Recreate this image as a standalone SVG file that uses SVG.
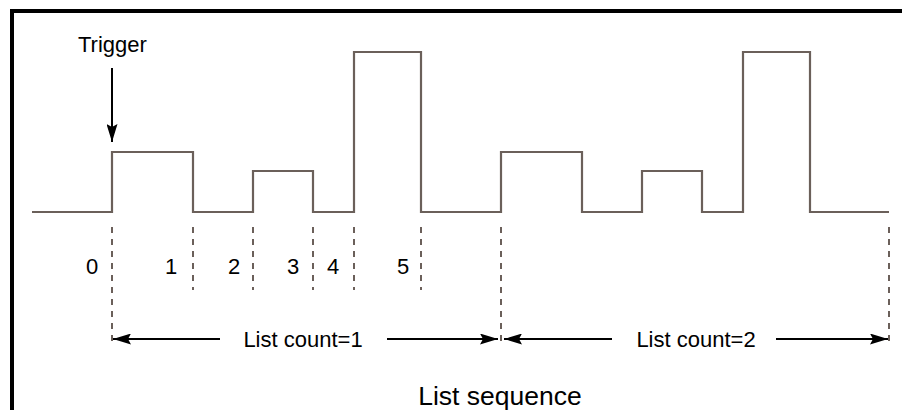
<svg xmlns="http://www.w3.org/2000/svg" width="902" height="410" viewBox="0 0 902 410">
<style>
.wave{fill:none;stroke:#6b605a;stroke-width:2.2}
.dash{fill:none;stroke:#6b605a;stroke-width:2;stroke-dasharray:6 6}
.arr{fill:none;stroke:#000;stroke-width:2}
.lbl{font-family:"Liberation Sans",Arial,sans-serif;font-size:22px;fill:#000}
.title{font-family:"Liberation Sans",Arial,sans-serif;font-size:26.5px;fill:#000}
</style>
<defs>
<marker id="ah" viewBox="0 0 18 11" refX="18" refY="5.5" markerWidth="18" markerHeight="11" markerUnits="userSpaceOnUse" orient="auto-start-reverse">
<path d="M0,0 L18,5.5 L0,11 L3,5.5 Z" fill="#000"/>
</marker>
</defs>
<rect width="902" height="410" fill="#fff"/>
<rect x="12" y="11" width="900" height="410" fill="none" stroke="#000" stroke-width="4"/>
<g id="waveform">
<path class="wave" d="M32,212 H112 V152 H193 V212 H253 V171 H313 V212 H354 V52 H421 V212 H501 V152 H582 V212 H642 V171 H702 V212 H743 V52 H810 V212 H889"/>
</g>
<g id="trigger">
<text class="lbl" x="78" y="52">Trigger</text>
<line class="arr" x1="112" y1="68" x2="112" y2="142" marker-end="url(#ah)"/>
</g>
<g id="markers">
<line class="dash" x1="112" y1="227" x2="112" y2="344"/>
<line class="dash" x1="193" y1="227" x2="193" y2="290"/>
<line class="dash" x1="253" y1="227" x2="253" y2="290"/>
<line class="dash" x1="313" y1="227" x2="313" y2="290"/>
<line class="dash" x1="354" y1="227" x2="354" y2="290"/>
<line class="dash" x1="421" y1="227" x2="421" y2="290"/>
<line class="dash" x1="501" y1="227" x2="501" y2="344"/>
<line class="dash" x1="889" y1="227" x2="889" y2="344"/>
</g>
<g id="step-labels">
<text class="lbl" x="92" y="274" text-anchor="middle">0</text>
<text class="lbl" x="171" y="274" text-anchor="middle">1</text>
<text class="lbl" x="234" y="274" text-anchor="middle">2</text>
<text class="lbl" x="293" y="274" text-anchor="middle">3</text>
<text class="lbl" x="333" y="274" text-anchor="middle">4</text>
<text class="lbl" x="403" y="274" text-anchor="middle">5</text>
</g>
<g id="connectors">
<line class="arr" x1="220" y1="339" x2="113" y2="339" marker-end="url(#ah)"/>
<line class="arr" x1="387" y1="339" x2="498" y2="339" marker-end="url(#ah)"/>
<line class="arr" x1="612" y1="339" x2="504" y2="339" marker-end="url(#ah)"/>
<line class="arr" x1="776" y1="339" x2="888" y2="339" marker-end="url(#ah)"/>
</g>
<g id="count1"><text class="lbl" x="303" y="347" text-anchor="middle">List count=1</text></g>
<g id="count2"><text class="lbl" x="696" y="347" text-anchor="middle">List count=2</text></g>
<g id="caption"><text class="title" x="500" y="405" text-anchor="middle">List sequence</text></g>
</svg>
